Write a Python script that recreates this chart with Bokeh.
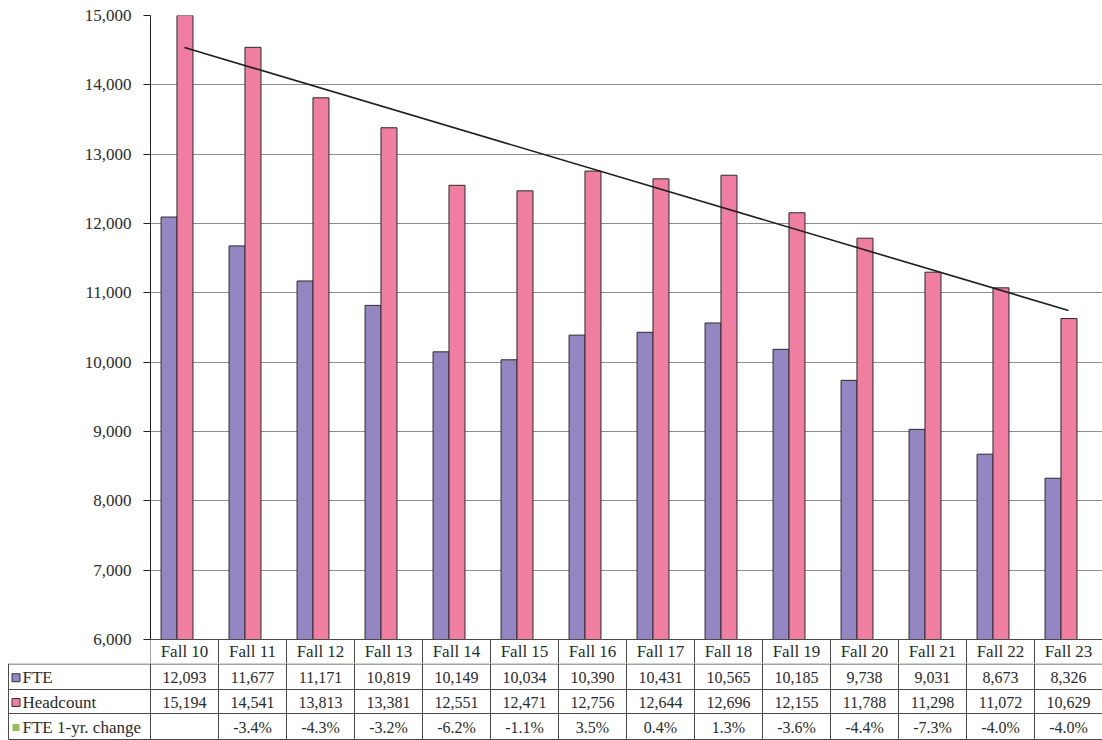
from bokeh.plotting import figure
from bokeh.layouts import column
from bokeh.models import Range1d, NumeralTickFormatter, FixedTicker
from bokeh.core.properties import value
from bokeh.embed import file_html
from bokeh.resources import INLINE
import numpy as np

# ---------------- data ----------------
categories = ["Fall 10", "Fall 11", "Fall 12", "Fall 13", "Fall 14", "Fall 15", "Fall 16",
              "Fall 17", "Fall 18", "Fall 19", "Fall 20", "Fall 21", "Fall 22", "Fall 23"]
fte = [12093, 11677, 11171, 10819, 10149, 10034, 10390, 10431, 10565, 10185, 9738, 9031, 8673, 8326]
headcount = [15194, 14541, 13813, 13381, 12551, 12471, 12756, 12644, 12696, 12155, 11788, 11298, 11072, 10629]
fte_change = [None, -3.4, -4.3, -3.2, -6.2, -1.1, 3.5, 0.4, 1.3, -3.6, -4.4, -7.3, -4.0, -4.0]
y_ticks = [6000, 7000, 8000, 9000, 10000, 11000, 12000, 13000, 14000, 15000]
series_names = ["FTE", "Headcount", "FTE 1-yr. change"]

# ---------------- style / layout ----------------
FTE_COLOR = "#9486c2"
HC_COLOR = "#f07ea0"
CHG_COLOR = "#9bbb59"
EDGE = "#2a2a2a"
FONT = "Liberation Serif"
TEXT_COLOR = "#2b2b2b"
LINE = "#4a4a4a"
W = 1102
LEFT = 150
TOP_PAD = 15
PLOT_PX = 624          # 6,000 .. 15,000
HDR = 24               # header row height (px)
TOP_H = TOP_PAD + PLOT_PX + HDR
TAB_H = 740 - TOP_H
N = len(categories)
PX = (W - LEFT) / N    # pixels per category
Y0, Y1 = y_ticks[0], y_ticks[-1]
UPP = (Y1 - Y0) / PLOT_PX   # data units per pixel
y_bottom = Y0 - HDR * UPP

# ---------------- chart (with header row of the table) ----------------
p = figure(width=W, height=TOP_H, x_range=Range1d(0, N), y_range=Range1d(y_bottom, Y1),
           output_backend="svg", toolbar_location=None, x_axis_location=None,
           min_border_left=LEFT, min_border_right=0, min_border_top=TOP_PAD, min_border_bottom=0)
p.outline_line_color = None
p.background_fill_color = "white"
p.border_fill_color = "white"
p.xgrid.visible = False
p.ygrid.grid_line_color = "#8f8f8f"
p.ygrid.grid_line_width = 1
p.yaxis.ticker = FixedTicker(ticks=y_ticks)
p.yaxis.bounds = (Y0, Y1)
p.yaxis.formatter = NumeralTickFormatter(format="0,0")
p.yaxis.major_label_text_font = FONT
p.yaxis.major_label_text_font_size = "17px"
p.yaxis.major_label_text_color = TEXT_COLOR
p.yaxis.axis_line_color = "#222222"
p.yaxis.major_tick_line_color = "#222222"
p.yaxis.major_tick_out = 7
p.yaxis.major_tick_in = 0
p.yaxis.minor_tick_line_color = None
p.yaxis.major_label_standoff = 12

xs = np.arange(N) + 0.5
bar_w = 16 / PX
fte_off = -0.227
hc_off = 0.007
p.vbar(x=xs + fte_off, width=bar_w, top=fte, bottom=Y0,
       fill_color=FTE_COLOR, line_color=EDGE, line_width=1)
p.vbar(x=xs + hc_off, width=bar_w, top=headcount, bottom=Y0,
       fill_color=HC_COLOR, line_color=EDGE, line_width=1)

# linear trend of headcount (as in the spreadsheet trendline)
idx = np.arange(N)
slope, icpt = np.polyfit(idx, headcount, 1)
p.line(x=[xs[0], xs[-1]], y=[icpt, icpt + slope * (N - 1)], line_color="#1e1e1e", line_width=1.6)

# header row: category labels and cell borders
p.segment(x0=[0], y0=[Y0], x1=[N], y1=[Y0], line_color=LINE, line_width=1)
vx = list(range(N + 1))
p.segment(x0=vx, y0=[Y0] * len(vx), x1=vx, y1=[y_bottom] * len(vx), line_color=LINE, line_width=1)
p.text(x=xs, y=[Y0 - (HDR / 2) * UPP] * N, text=categories, text_align="center", text_baseline="middle",
       text_font=value(FONT), text_font_size="17px", text_color=TEXT_COLOR)

# ---------------- data table rows ----------------
t = figure(width=W, height=TAB_H, x_range=Range1d(-LEFT / PX, N), y_range=Range1d(TAB_H, 0),
           output_backend="svg", toolbar_location=None, x_axis_location=None, y_axis_location=None,
           min_border_left=0, min_border_right=0, min_border_top=0, min_border_bottom=0)
t.frame_align = False
t.outline_line_color = None
t.xgrid.visible = False
t.ygrid.visible = False
t.background_fill_color = "white"
t.border_fill_color = "white"

rows = [0.5, 26, 50, 76]  # row boundaries (px from top of this part)
leg_left = (8 - LEFT) / PX
t.segment(x0=[leg_left] * 4, y0=rows, x1=[N] * 4, y1=rows, line_color=LINE, line_width=1)
t.segment(x0=vx + [leg_left], y0=[0] * (len(vx) + 1), x1=vx + [leg_left], y1=[rows[-1]] * (len(vx) + 1),
          line_color=LINE, line_width=1)

mids = [(rows[i] + rows[i + 1]) / 2 + 1 for i in range(3)]
t.text(x=xs, y=[mids[0]] * N, text=[f"{v:,}" for v in fte], text_align="center", text_baseline="middle",
       text_font=value(FONT), text_font_size="16px", text_color=TEXT_COLOR)
t.text(x=xs, y=[mids[1]] * N, text=[f"{v:,}" for v in headcount], text_align="center", text_baseline="middle",
       text_font=value(FONT), text_font_size="16px", text_color=TEXT_COLOR)
t.text(x=xs, y=[mids[2]] * N, text=["" if v is None else f"{v:.1f}%" for v in fte_change],
       text_align="center", text_baseline="middle",
       text_font=value(FONT), text_font_size="16px", text_color=TEXT_COLOR)

# legend column
mk_x = (15.5 - LEFT) / PX
t.scatter(x=[mk_x] * 2, y=mids[0:2], marker="square", size=8,
          fill_color=[FTE_COLOR, HC_COLOR], line_color="#333333", line_width=1)
t.scatter(x=[mk_x], y=[mids[2]], marker="square", size=7, fill_color=CHG_COLOR, line_color=None)
t.text(x=[(22 - LEFT) / PX] * 3, y=mids, text=series_names, text_align="left", text_baseline="middle",
       text_font=value(FONT), text_font_size="17px", text_color=TEXT_COLOR)

p.frame_align = False
layout = column(p, t, spacing=0)
open("out.html", "w").write(file_html(layout, INLINE))
